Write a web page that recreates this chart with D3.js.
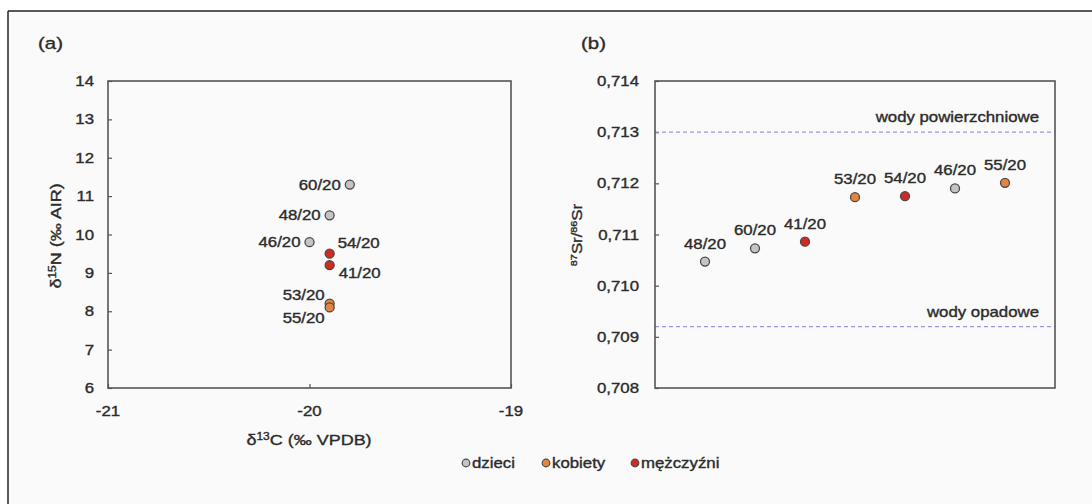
<!DOCTYPE html>
<html>
<head>
<meta charset="utf-8">
<script src="https://cdn.jsdelivr.net/npm/d3@7"></script>
<style>
  html, body { margin: 0; padding: 0; background: #ffffff; }
  svg { display: block; }
  text { font-family: "Liberation Sans", Arial, sans-serif; fill: #2b2b2b; stroke: #2b2b2b; stroke-width: 0.35px; }
</style>
</head>
<body>
<svg id="chart" width="1092" height="504"></svg>
<script>
// ---------- data ----------
const groups = ['dzieci', 'kobiety', 'mężczyźni'];
const groupColors = ['#c4c4c4', '#e5843e', '#cf2b22'];

// panel (a)
const labelsA = ['60/20', '48/20', '46/20', '54/20', '41/20', '53/20', '55/20'];
const d13C    = [-19.8, -19.9, -20.0, -19.9, -19.9, -19.9, -19.9];
const d15N    = [11.3, 10.5, 9.8, 9.5, 9.2, 8.2, 8.1];
const groupA  = ['dzieci', 'dzieci', 'dzieci', 'mężczyźni', 'mężczyźni', 'kobiety', 'kobiety'];
const xTicksA = [-21, -20, -19];
const yTicksA = [6, 7, 8, 9, 10, 11, 12, 13, 14];

// panel (b)
const labelsB = ['48/20', '60/20', '41/20', '53/20', '54/20', '46/20', '55/20'];
const srRatio = [0.71047, 0.71073, 0.71086, 0.71173, 0.71175, 0.71190, 0.71201];
const groupB  = ['dzieci', 'dzieci', 'mężczyźni', 'kobiety', 'mężczyźni', 'dzieci', 'kobiety'];
const yTicksB = [0.708, 0.709, 0.710, 0.711, 0.712, 0.713, 0.714];
const refLabels = ['wody powierzchniowe', 'wody opadowe'];
const refValues = [0.713, 0.7092];

// ---------- layout / style ----------
const SX = 1.2;          // horizontal stretch of the original picture's text
const FS = 14;
const TFS = 15;
const R = 4.5;
const placeA = ['left', 'left', 'left', 'rightUp', 'rightDown', 'leftUp', 'leftDown'];

const svg = d3.select('#chart');
const color = d3.scaleOrdinal().domain(groups).range(groupColors);

// background + outer frame
svg.append('rect').attr('x', 8).attr('y', 11).attr('width', 1084).attr('height', 493).attr('fill', '#fafafa');
svg.append('line').attr('x1', 8).attr('x2', 1092).attr('y1', 11).attr('y2', 11).attr('stroke', '#222').attr('stroke-width', 1.5);
svg.append('line').attr('x1', 8).attr('x2', 8).attr('y1', 11).attr('y2', 504).attr('stroke', '#222').attr('stroke-width', 1.5);

function txt(parent, x, y, str, anchor, size, rot) {
  const t = parent.append('text')
    .attr('transform', `translate(${x},${y})` + (rot ? ` rotate(${rot})` : '') + ` scale(${SX},1)`)
    .attr('text-anchor', anchor || 'start')
    .attr('font-size', size || FS);
  if (str !== null) t.text(str);
  return t;
}

// ---------- panel (a) ----------
const A = { l: 108, r: 511, t: 81, b: 388 };
const xA = d3.scaleLinear().domain([-21, -19]).range([A.l, A.r]);
const yA = d3.scaleLinear().domain([6, 14]).range([A.b, A.t]);

const gA = svg.append('g');
const axAy = gA.append('g').attr('transform', `translate(${A.l},0)`)
  .call(d3.axisLeft(yA).tickValues(yTicksA).tickSize(-4).tickFormat(''));
const axAx = gA.append('g').attr('transform', `translate(0,${A.b})`)
  .call(d3.axisBottom(xA).tickValues(xTicksA).tickSize(-4).tickFormat(''));
[axAy, axAx].forEach(a => { a.select('.domain').remove(); a.selectAll('line').attr('stroke', '#555').attr('stroke-width', 1.2); });

gA.append('rect').attr('x', A.l).attr('y', A.t).attr('width', A.r - A.l).attr('height', A.b - A.t)
  .attr('fill', 'none').attr('stroke', '#555').attr('stroke-width', 1.6);

yTicksA.forEach(v => txt(gA, 94, yA(v) + 5, String(v), 'end'));
xTicksA.forEach(v => txt(gA, xA(v), 416, String(v), 'middle'));

// axis titles
{
  const t = txt(gA, 309, 445, null, 'middle', TFS);
  t.append('tspan').text('δ');
  t.append('tspan').attr('font-size', 10).attr('dy', -5).text('13');
  t.append('tspan').attr('dy', 5).text('C (‰ VPDB)');
}
{
  const t = txt(gA, 61, 236, null, 'middle', TFS, -90);
  t.append('tspan').text('δ');
  t.append('tspan').attr('font-size', 10).attr('dy', -5).text('15');
  t.append('tspan').attr('dy', 5).text('N (‰ AIR)');
}
txt(gA, 38, 49, '(a)', 'start', 17);

labelsA.forEach((lab, i) => {
  const px = xA(d13C[i]), py = yA(d15N[i]);
  gA.append('circle').attr('cx', px).attr('cy', py).attr('r', R)
    .attr('fill', color(groupA[i])).attr('stroke', '#4a4a4a').attr('stroke-width', 1.3);
  const p = placeA[i];
  if (p === 'left') txt(gA, px - 9, py + 5, lab, 'end');
  else if (p === 'rightUp') txt(gA, px + 8, py - 11 + 5, lab, 'start');
  else if (p === 'rightDown') txt(gA, px + 9, py + 8 + 5, lab, 'start');
  else if (p === 'leftUp') txt(gA, px - 5, py - 9 + 5, lab, 'end');
  else if (p === 'leftDown') txt(gA, px - 5, py + 11 + 5, lab, 'end');
});

// ---------- panel (b) ----------
const B = { l: 655, r: 1055, t: 81, b: 388 };
const xB = d3.scaleLinear().domain([0, labelsB.length + 1]).range([B.l, B.r]);
const yB = d3.scaleLinear().domain([0.708, 0.714]).range([B.b, B.t]);
const fmtB = v => d3.format('.3f')(v).replace('.', ',');

const gB = svg.append('g');
const axBy = gB.append('g').attr('transform', `translate(${B.l},0)`)
  .call(d3.axisLeft(yB).tickValues(yTicksB).tickSize(-4).tickFormat(''));
axBy.select('.domain').remove();
axBy.selectAll('line').attr('stroke', '#555').attr('stroke-width', 1.2);

refValues.forEach((v, i) => {
  gB.append('line').attr('x1', B.l).attr('x2', B.r).attr('y1', yB(v)).attr('y2', yB(v))
    .attr('stroke', '#9c9ad6').attr('stroke-width', 1.3).attr('stroke-dasharray', '4,3');
  txt(gB, 1039, yB(v) - 15 + 5, refLabels[i], 'end');
});

gB.append('rect').attr('x', B.l).attr('y', B.t).attr('width', B.r - B.l).attr('height', B.b - B.t)
  .attr('fill', 'none').attr('stroke', '#555').attr('stroke-width', 1.6);

yTicksB.forEach(v => txt(gB, 639, yB(v) + 5, fmtB(v), 'end'));

{
  const t = txt(gB, 582, 235, null, 'middle', FS, -90);
  t.append('tspan').attr('font-size', 9).attr('dy', -5).text('87');
  t.append('tspan').attr('dy', 5).text('Sr/');
  t.append('tspan').attr('font-size', 9).attr('dy', -5).text('86');
  t.append('tspan').attr('dy', 5).text('Sr');
}
txt(gB, 581, 49, '(b)', 'start', 17);

labelsB.forEach((lab, i) => {
  const px = xB(i + 1), py = yB(srRatio[i]);
  gB.append('circle').attr('cx', px).attr('cy', py).attr('r', R)
    .attr('fill', color(groupB[i])).attr('stroke', '#4a4a4a').attr('stroke-width', 1.3);
  txt(gB, px, py - 18 + 5, lab, 'middle');
});

// ---------- legend ----------
const legX = [466, 546, 635];
groups.forEach((g, i) => {
  svg.append('circle').attr('cx', legX[i]).attr('cy', 463).attr('r', 3.8)
    .attr('fill', color(g)).attr('stroke', '#4a4a4a').attr('stroke-width', 1.2);
  txt(svg, legX[i] + 6, 468, g, 'start');
});
</script>
</body>
</html>
